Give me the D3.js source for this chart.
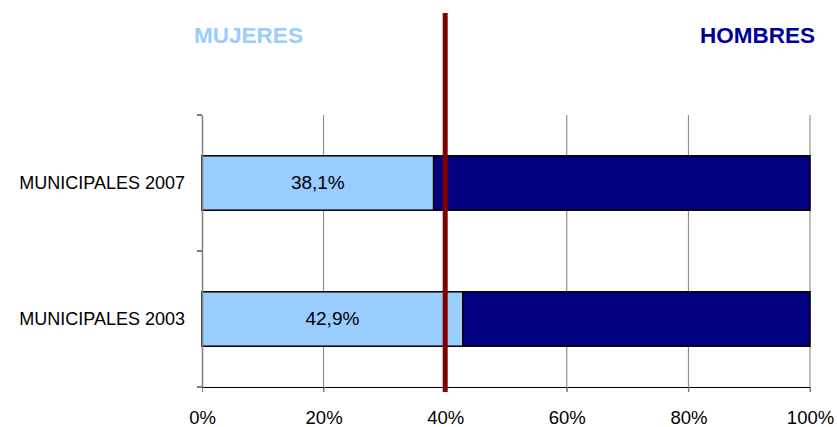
<!DOCTYPE html>
<html><head><meta charset="utf-8">
<script src="https://cdn.jsdelivr.net/npm/d3@7"></script>
<style>body{margin:0;background:#fff}svg{display:block}</style>
</head><body>
<svg id="c" width="837" height="427"></svg>
<script>
const categories = ["MUNICIPALES 2007", "MUNICIPALES 2003"];
const mujeres = [38.1, 42.9];
const hombres = [61.9, 57.1];
const labels = ["38,1%", "42,9%"];
const xTicks = [0, 20, 40, 60, 80, 100];
const refLine = 40;

const FONT = "Liberation Sans, Arial, sans-serif";
const svg = d3.select("#c");
const pLeft = 202, pRight = 810, pTop = 115, pBottom = 387;
const x = d3.scaleLinear().domain([0, 100]).range([pLeft, pRight]);
const y = d3.scaleBand().domain(categories).range([pTop, pBottom]).paddingInner(0.6).paddingOuter(0.3);
const yb = d3.scaleBand().domain(categories).range([pTop, pBottom]);

// gridlines
svg.append("g").selectAll("line").data(xTicks.slice(1)).join("line")
  .attr("x1", d => x(d)).attr("x2", d => x(d)).attr("y1", pTop).attr("y2", pBottom + 5)
  .attr("stroke", "#808080").attr("stroke-width", 1);

// bars
const g = svg.append("g");
categories.forEach((c, i) => {
  g.append("rect").attr("x", x(0)).attr("y", y(c)).attr("width", x(mujeres[i]) - x(0)).attr("height", y.bandwidth())
    .attr("fill", "#99ccff").attr("stroke", "#000").attr("stroke-width", 1.5);
  g.append("rect").attr("x", x(mujeres[i])).attr("y", y(c)).attr("width", x(mujeres[i] + hombres[i]) - x(mujeres[i])).attr("height", y.bandwidth())
    .attr("fill", "#000080").attr("stroke", "#000").attr("stroke-width", 1.5);
  g.append("text").attr("x", (x(0) + x(mujeres[i])) / 2).attr("y", y(c) + y.bandwidth() / 2 - 1)
    .attr("dy", "0.36em").attr("text-anchor", "middle")
    .attr("font-family", FONT).attr("font-size", 19).attr("fill", "#000")
    .text(labels[i]);
});

// x axis
const xa = svg.append("g").attr("transform", `translate(0,${pBottom})`)
  .call(d3.axisBottom(x).tickValues(xTicks).tickFormat(d => d + "%").tickSize(5).tickSizeOuter(0));
xa.select(".domain").attr("stroke", "#000").attr("stroke-width", 1.2);
xa.selectAll(".tick line").attr("stroke", "#808080");
xa.selectAll("text").attr("font-family", FONT).attr("font-size", 18.5).attr("fill", "#000").attr("y", 37).attr("dy", null);

// y axis
const ya = svg.append("g").attr("transform", `translate(${pLeft},0)`)
  .call(d3.axisLeft(yb).tickSize(0).tickPadding(17));
ya.select(".domain").attr("stroke", "#808080").attr("stroke-width", 1.5);
ya.selectAll("text").attr("font-family", FONT).attr("font-size", 18).attr("fill", "#000");
svg.append("g").selectAll("line").data([pTop, (pTop + pBottom) / 2, pBottom]).join("line")
  .attr("x1", pLeft - 5).attr("x2", pLeft).attr("y1", d => d).attr("y2", d => d)
  .attr("stroke", "#000").attr("stroke-width", 1);

// reference line
svg.append("line").attr("x1", x(refLine)).attr("x2", x(refLine)).attr("y1", 13).attr("y2", 392)
  .attr("stroke", "#800000").attr("stroke-width", 5);

// titles
svg.append("text").attr("x", 248.5).attr("y", 43).attr("text-anchor", "middle")
  .attr("font-family", FONT).attr("font-weight", "bold").attr("font-size", 22.5)
  .attr("fill", "#99ccff").text("MUJERES");
svg.append("text").attr("x", 757.5).attr("y", 43).attr("text-anchor", "middle")
  .attr("font-family", FONT).attr("font-weight", "bold").attr("font-size", 22.5)
  .attr("fill", "#000099").text("HOMBRES");
</script>
</body></html>
